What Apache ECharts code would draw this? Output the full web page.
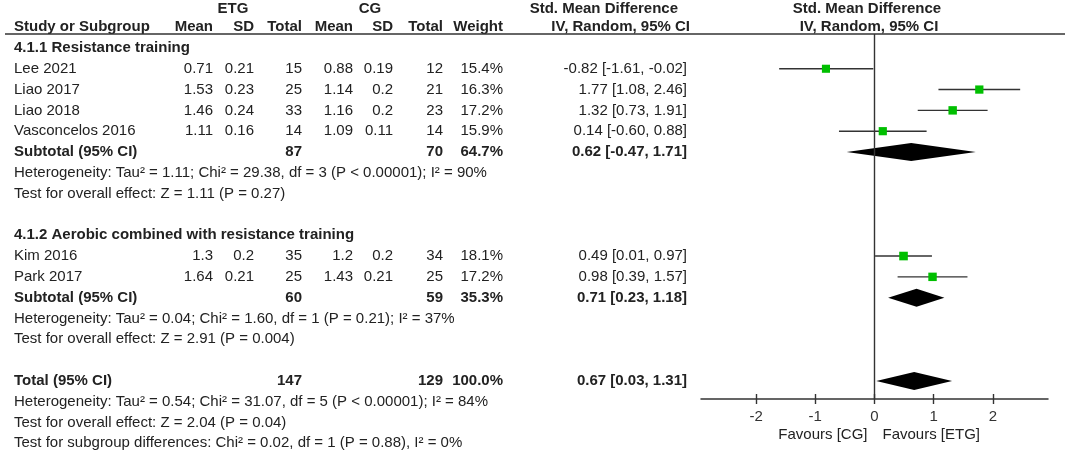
<!DOCTYPE html>
<html>
<head>
<meta charset="utf-8">
<script src="https://cdn.jsdelivr.net/npm/echarts@6/dist/echarts.min.js"></script>
<style>
  html, body { margin: 0; padding: 0; background: #fff; }
  #main { width: 1065px; height: 453px; }
</style>
</head>
<body>
<div id="main"></div>
<script>
// study rows
const studies = ['Lee 2021', 'Liao 2017', 'Liao 2018', 'Vasconcelos 2016', 'Kim 2016', 'Park 2017']
const studyRow = [1, 2, 3, 4, 10, 11]
const etgMean = [0.71, 1.53, 1.46, 1.11, 1.3, 1.64]
const etgSD = [0.21, 0.23, 0.24, 0.16, 0.2, 0.21]
const etgN = [15, 25, 33, 14, 35, 25]
const cgMean = [0.88, 1.14, 1.16, 1.09, 1.2, 1.43]
const cgSD = [0.19, 0.2, 0.2, 0.11, 0.2, 0.21]
const cgN = [12, 21, 23, 14, 34, 25]
const weight = [15.4, 16.3, 17.2, 15.9, 18.1, 17.2]
const smd = [-0.82, 1.77, 1.32, 0.14, 0.49, 0.98]
const smdLo = [-1.61, 1.08, 0.73, -0.60, 0.01, 0.39]
const smdHi = [-0.02, 2.46, 1.91, 0.88, 0.97, 1.57]

// subtotal / total rows
const poolName = ['Subtotal (95% CI)', 'Subtotal (95% CI)', 'Total (95% CI)']
const poolRow = [5, 12, 16]
const poolEtgN = [87, 60, 147]
const poolCgN = [70, 59, 129]
const poolWeight = [64.7, 35.3, 100.0]
const poolEst = [0.62, 0.71, 0.67]
const poolLo = [-0.47, 0.23, 0.03]
const poolHi = [1.71, 1.18, 1.31]

const groupTitle = ['4.1.1 Resistance training', '4.1.2 Aerobic combined with resistance training']
const groupRow = [0, 9]

const notes = [
  'Heterogeneity: Tau² = 1.11; Chi² = 29.38, df = 3 (P < 0.00001); I² = 90%',
  'Test for overall effect: Z = 1.11 (P = 0.27)',
  'Heterogeneity: Tau² = 0.04; Chi² = 1.60, df = 1 (P = 0.21); I² = 37%',
  'Test for overall effect: Z = 2.91 (P = 0.004)',
  'Heterogeneity: Tau² = 0.54; Chi² = 31.07, df = 5 (P < 0.00001); I² = 84%',
  'Test for overall effect: Z = 2.04 (P = 0.04)',
  'Test for subgroup differences: Chi² = 0.02, df = 1 (P = 0.88), I² = 0%'
]
const noteRow = [6, 7, 13, 14, 17, 18, 19]

const xTicks = [-2, -1, 0, 1, 2]

const FONT = '"Liberation Sans", Arial, sans-serif'
const FS = 15
const INK = '#222'

let myChart = echarts.init(document.getElementById('main'), null, { renderer: 'canvas' })

function studyData() {
  let arr = []
  for (let i = 0; i < studies.length; i++) {
    arr.push([smd[i], smdLo[i], smdHi[i], studyRow[i], weight[i]])
  }
  return arr
}

function poolData() {
  let arr = []
  for (let i = 0; i < poolName.length; i++) {
    arr.push([poolEst[i], poolLo[i], poolHi[i], poolRow[i]])
  }
  return arr
}

function renderStudy(params, api) {
  let row = api.value(3)
  let c = api.coord([api.value(0), row])
  let l = api.coord([api.value(1), row])
  let r = api.coord([api.value(2), row])
  let s = 5 + api.value(4) * 0.2
  return {
    type: 'group',
    children: [
      { type: 'line', shape: { x1: l[0], y1: l[1], x2: r[0], y2: r[1] }, style: { stroke: '#333', lineWidth: 1.4 } },
      { type: 'rect', shape: { x: c[0] - s / 2, y: c[1] - s / 2, width: s, height: s }, style: { fill: '#00bf00' } }
    ]
  }
}

function renderDiamond(params, api) {
  let row = api.value(3)
  let c = api.coord([api.value(0), row])
  let l = api.coord([api.value(1), row])
  let r = api.coord([api.value(2), row])
  let h = 9
  return {
    type: 'polygon',
    shape: { points: [[l[0], l[1]], [c[0], c[1] - h], [r[0], r[1]], [c[0], c[1] + h]] },
    style: { fill: '#000' }
  }
}

let tickStyle = { color: '#333', width: 1.4 }

let option = {
  backgroundColor: '#fff',
  animation: false,
  grid: { left: 701, right: 17, top: 34, bottom: 54 },
  xAxis: [
    {
      type: 'value', min: -2.93, max: 2.93,
      axisLine: { onZero: false, lineStyle: { color: '#333', width: 1.5 } },
      axisTick: { customValues: xTicks, length: 5, lineStyle: tickStyle },
      axisLabel: { customValues: xTicks, margin: 10, fontSize: FS, fontFamily: FONT, color: '#333' },
      splitLine: { show: false }
    },
    {
      // second axis only for the upper half of the ticks
      type: 'value', min: -2.93, max: 2.93, position: 'bottom',
      axisLine: { show: false, onZero: false },
      axisTick: { customValues: xTicks, inside: true, length: 5, lineStyle: tickStyle },
      axisLabel: { show: false },
      splitLine: { show: false }
    }
  ],
  yAxis: {
    type: 'value', min: -0.67, max: 16.87, inverse: true, show: false
  },
  series: [
    {
      type: 'custom',
      renderItem: renderStudy,
      data: studyData(),
      encode: { x: [0, 1, 2], y: 3 },
      markLine: {
        silent: true,
        symbol: 'none',
        label: { show: false },
        lineStyle: { color: '#333', width: 1.4, type: 'solid' },
        data: [{ xAxis: 0 }]
      }
    },
    {
      type: 'custom',
      renderItem: renderDiamond,
      data: poolData(),
      encode: { x: [0, 1, 2], y: 3 }
    }
  ]
}
myChart.setOption(option)

// table text
function txt(text, x, y, align, bold) {
  return {
    type: 'text',
    silent: true,
    style: {
      text: text, x: x, y: y,
      align: align, verticalAlign: 'middle',
      fontSize: FS, fontFamily: FONT,
      fontWeight: bold ? 'bold' : 'normal',
      fill: INK
    }
  }
}

function rowY(row) {
  return myChart.convertToPixel({ yAxisIndex: 0 }, row)
}

function ciText(e, l, h) {
  return e.toFixed(2) + ' [' + l.toFixed(2) + ', ' + h.toFixed(2) + ']'
}

let g = []
// header
g.push(txt('ETG', 233, 9, 'center', true))
g.push(txt('CG', 370, 9, 'center', true))
g.push(txt('Std. Mean Difference', 678, 9, 'right', true))
g.push(txt('Std. Mean Difference', 867, 9, 'center', true))
g.push(txt('Study or Subgroup', 14, 27, 'left', true))
g.push(txt('Mean', 213, 27, 'right', true))
g.push(txt('SD', 254, 27, 'right', true))
g.push(txt('Total', 302, 27, 'right', true))
g.push(txt('Mean', 353, 27, 'right', true))
g.push(txt('SD', 393, 27, 'right', true))
g.push(txt('Total', 443, 27, 'right', true))
g.push(txt('Weight', 503, 27, 'right', true))
g.push(txt('IV, Random, 95% CI', 690, 27, 'right', true))
g.push(txt('IV, Random, 95% CI', 869, 27, 'center', true))
g.push({
  type: 'line', silent: true,
  shape: { x1: 5, y1: 34, x2: 1065, y2: 34 },
  style: { stroke: '#333', lineWidth: 1.5 }
})

for (let i = 0; i < groupTitle.length; i++) {
  g.push(txt(groupTitle[i], 14, rowY(groupRow[i]), 'left', true))
}
for (let i = 0; i < studies.length; i++) {
  let y = rowY(studyRow[i])
  g.push(txt(studies[i], 14, y, 'left'))
  g.push(txt(String(etgMean[i]), 213, y, 'right'))
  g.push(txt(String(etgSD[i]), 254, y, 'right'))
  g.push(txt(String(etgN[i]), 302, y, 'right'))
  g.push(txt(String(cgMean[i]), 353, y, 'right'))
  g.push(txt(String(cgSD[i]), 393, y, 'right'))
  g.push(txt(String(cgN[i]), 443, y, 'right'))
  g.push(txt(weight[i].toFixed(1) + '%', 503, y, 'right'))
  g.push(txt(ciText(smd[i], smdLo[i], smdHi[i]), 687, y, 'right'))
}
for (let i = 0; i < poolName.length; i++) {
  let y = rowY(poolRow[i])
  g.push(txt(poolName[i], 14, y, 'left', true))
  g.push(txt(String(poolEtgN[i]), 302, y, 'right', true))
  g.push(txt(String(poolCgN[i]), 443, y, 'right', true))
  g.push(txt(poolWeight[i].toFixed(1) + '%', 503, y, 'right', true))
  g.push(txt(ciText(poolEst[i], poolLo[i], poolHi[i]), 687, y, 'right', true))
}
for (let i = 0; i < notes.length; i++) {
  g.push(txt(notes[i], 14, rowY(noteRow[i]), 'left'))
}

// favours labels under the axis
let x0 = myChart.convertToPixel({ xAxisIndex: 0 }, 0)
g.push(txt('Favours [CG]', x0 - 7, 435, 'right'))
g.push(txt('Favours [ETG]', x0 + 8, 435, 'left'))

myChart.setOption({ graphic: g })
</script>
</body>
</html>
